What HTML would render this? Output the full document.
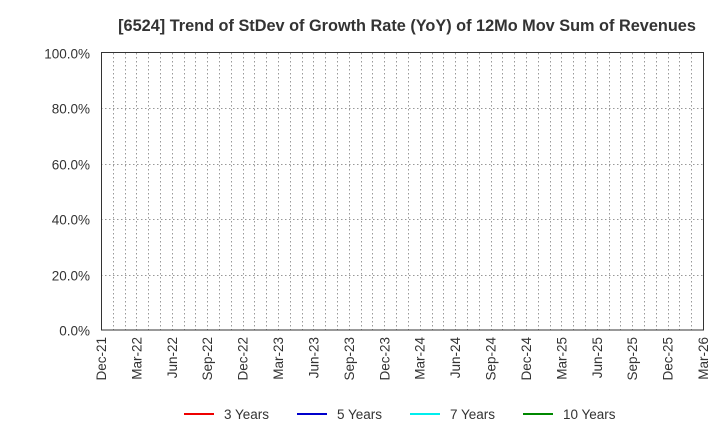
<!DOCTYPE html><html><head><style>body{margin:0;background:#fff;}svg text{font-family:"Liberation Sans",sans-serif;}</style></head><body>
<svg width="720" height="440" xmlns="http://www.w3.org/2000/svg">
<rect width="720" height="440" fill="#fff"/>
<text x="407" y="31" text-anchor="middle" font-size="16.3" font-weight="bold" fill="#333">[6524]  Trend of StDev of Growth Rate (YoY) of 12Mo Mov Sum of Revenues</text>
<g id="g" stroke="#999" stroke-width="1" stroke-dasharray="1.5,2.5"></g>
<rect x="101.5" y="52.5" width="602" height="277.5" fill="none" stroke="#333"/>
<g id="yl" font-size="13.5" fill="#333" text-anchor="end"></g>
<g id="xl" font-size="13.5" fill="#333"></g>
<g font-size="13.5" fill="#333">
<line x1="184" y1="414" x2="214" y2="414" stroke="#e00" stroke-width="2"/><text x="224" y="419">3 Years</text>
<line x1="297" y1="414" x2="327" y2="414" stroke="#00c" stroke-width="2"/><text x="337" y="419">5 Years</text>
<line x1="410" y1="414" x2="440" y2="414" stroke="#0ee" stroke-width="2"/><text x="450" y="419">7 Years</text>
<line x1="523" y1="414" x2="553" y2="414" stroke="#080" stroke-width="2"/><text x="563" y="419">10 Years</text>
</g>
</svg>
<script>
const ns="http://www.w3.org/2000/svg",g=document.getElementById('g'),yl=document.getElementById('yl'),xl=document.getElementById('xl');
function el(p,t,a,txt){const e=document.createElementNS(ns,t);for(const k in a)e.setAttribute(k,a[k]);if(txt)e.textContent=txt;p.appendChild(e);}
for(let i=1;i<51;i++){const x=Math.round(101+i*602/51)+0.5;el(g,'line',{x1:x,y1:53,x2:x,y2:330});}
for(let i=0;i<=5;i++){const y=Math.round(330-i*277.5/5)+0.5;if(i>0&&i<5)el(g,'line',{x1:101,y1:y,x2:703,y2:y});el(yl,'text',{x:90,y:y+5},(i*20).toFixed(1)+'%');}
const m=['Dec','Mar','Jun','Sep'];
for(let i=0;i<=17;i++){const x=101+i*3*602/51;const yr=21+Math.floor((i+3)/4);const lab=m[i%4]+'-'+yr;el(xl,'text',{x:0,y:0,'text-anchor':'end',transform:`translate(${x+5},337) rotate(-90)`},lab);}
</script>
</body></html>
